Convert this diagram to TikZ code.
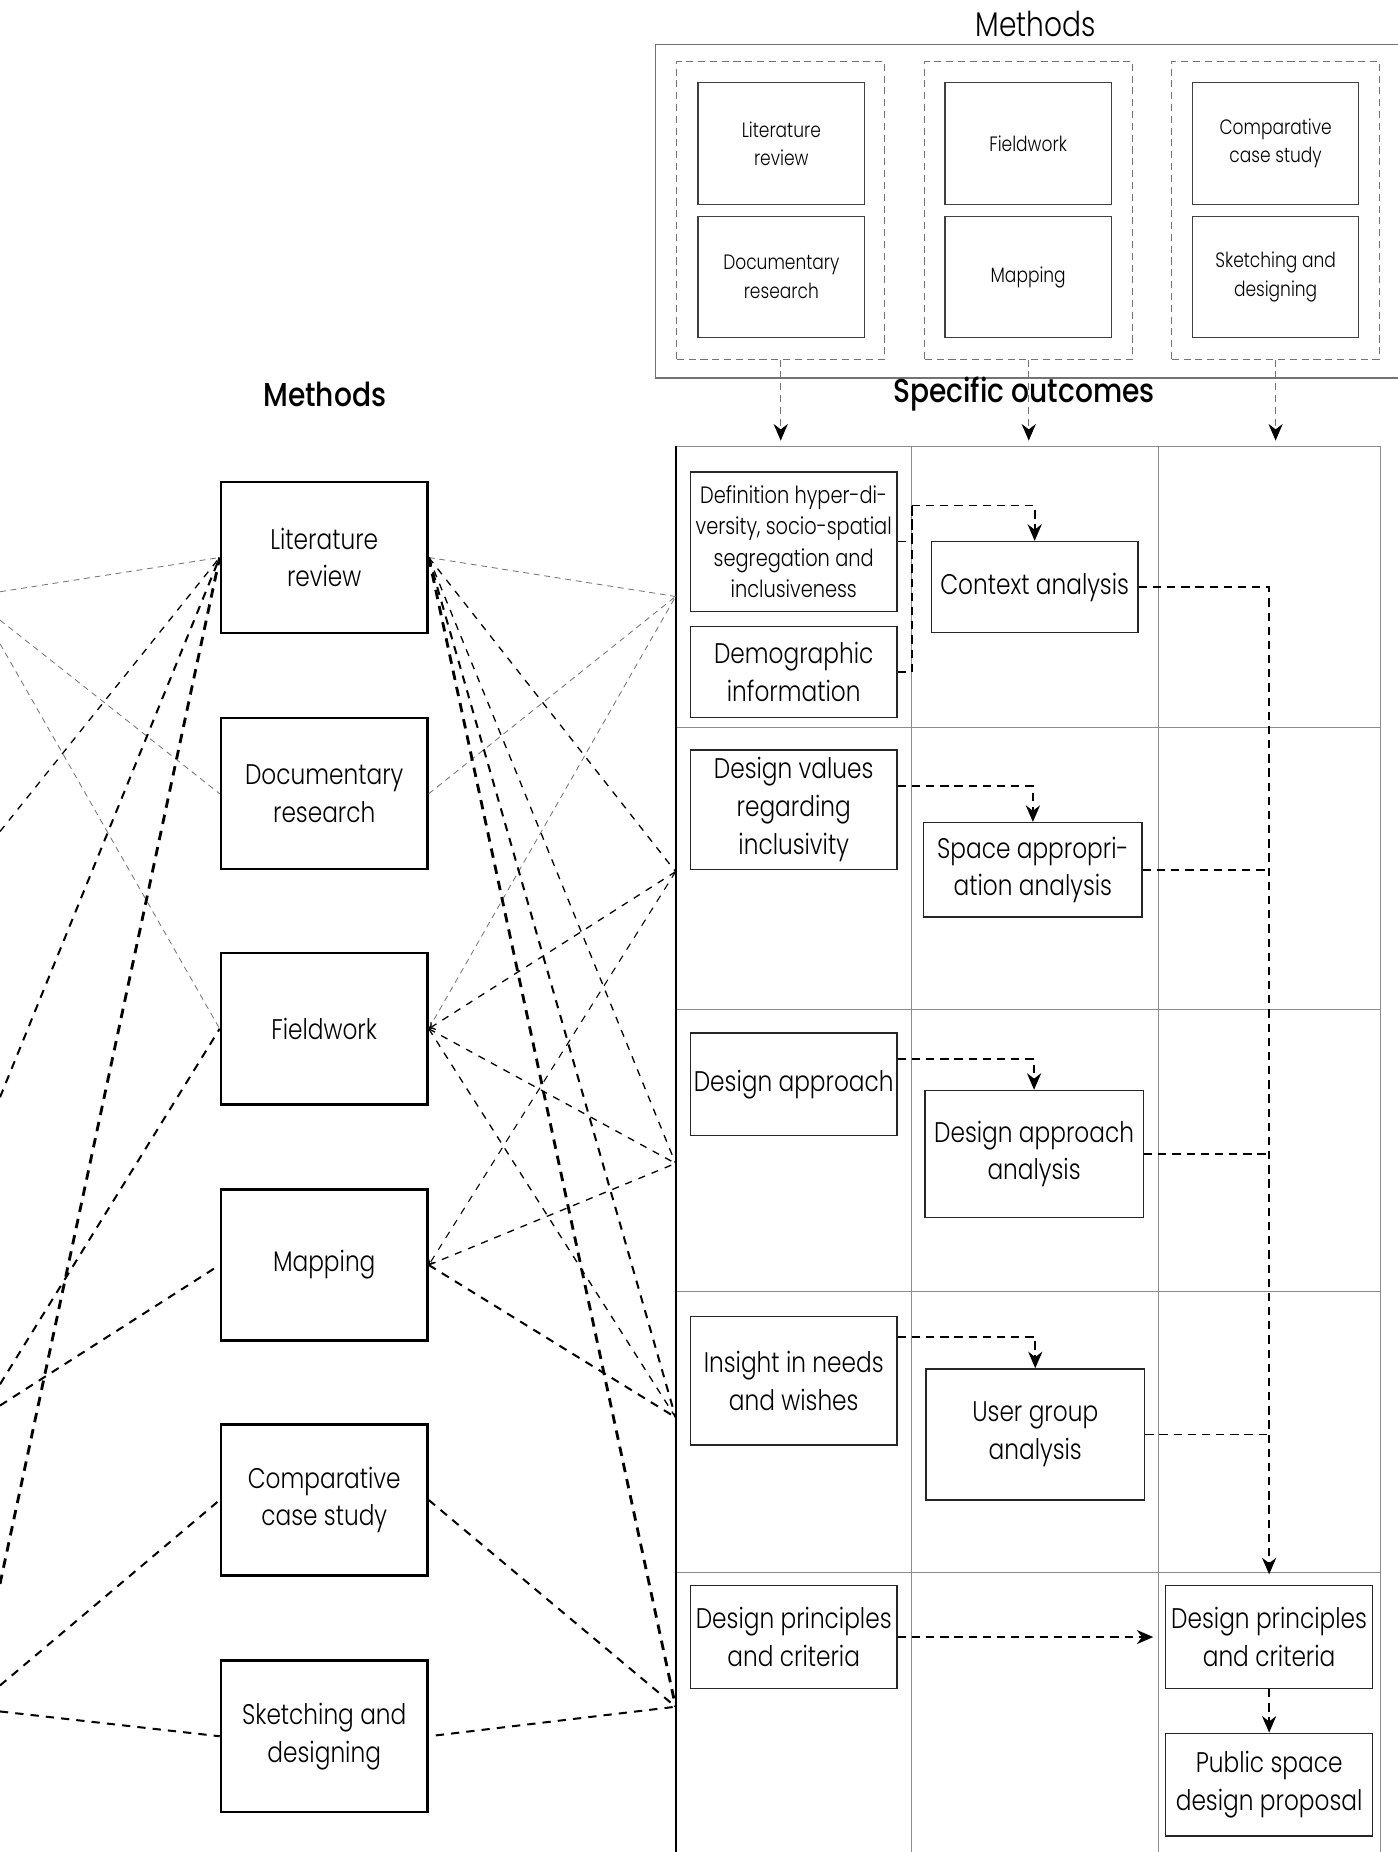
\documentclass[tikz,border=0pt]{standalone}
\usepackage{fontspec}
\IfFontExistsTF{Poppins Light}{\setmainfont{Poppins Light}[FakeStretch=0.82]}{\setmainfont{Poppins}[FakeStretch=0.82]}
\IfFontExistsTF{Poppins Medium}{\newfontfamily\headfont{Poppins Medium}[FakeStretch=0.85]}{\newfontfamily\headfont{Poppins}[FakeStretch=0.85]}
\usetikzlibrary{arrows.meta}
\tikzset{
  mbox/.style={draw=black, line width=1pt, minimum width=87.5pt, minimum height=64pt, inner sep=0pt, align=center, font=\fontsize{12}{16}\selectfont},
  sbox/.style={draw=black!75, line width=0.5pt, minimum width=70.5pt, minimum height=51.5pt, inner sep=0pt, align=center, font=\fontsize{8.8}{12}\selectfont},
  grp/.style={draw=black!55, line width=0.45pt, dash pattern=on 3pt off 2pt, minimum width=88pt, minimum height=126pt, inner sep=0pt},
  tbox/.style={draw=black!85, line width=0.6pt, inner sep=0pt, align=center, font=\fontsize{12}{16}\selectfont},
  grid/.style={draw=black!45, line width=0.4pt},
  conn/.style={line width=0.75pt, dash pattern=on 3.5pt off 2.5pt},
  tip/.style={-{Stealth[length=7pt,width=6pt]}},
  downarr/.style={draw=black!55, line width=0.45pt, dash pattern=on 3pt off 2pt, -{Stealth[length=7pt,width=6pt,black]}},
  thinl/.style={draw=black!55, line width=0.35pt, dash pattern=on 2.5pt off 2pt},
  medl/.style={draw=black, line width=0.55pt, dash pattern=on 3pt off 3pt},
  thkl/.style={draw=black, line width=0.85pt, dash pattern=on 3.5pt off 3pt},
  vthkl/.style={draw=black, line width=1.2pt, dash pattern=on 4pt off 3pt},
  head/.style={font=\headfont\fontsize{14}{16}\selectfont},
}
\begin{document}
\begin{tikzpicture}[x=0.5pt,y=-0.5pt]
\useasboundingbox (0,0) rectangle (1183,1568);
% ---------- top methods panel ----------
\node[font=\fontsize{14.5}{16}\selectfont] (topt) at (877,20) {Methods};
\draw[draw=black!55, line width=0.5pt] (1190,38) -- (555,38) -- (555,320) -- (1190,320);
\node[grp] (g1) at (661,178) {};
\node[grp] (g2) at (871,178) {};
\node[grp] (g3) at (1080,178) {};
\node[sbox] (s1) at (661.5,121.5) {Literature\\review};
\node[sbox] (s2) at (661.5,234.5) {Documentary\\research};
\node[sbox] (s3) at (870.5,121.5) {Fieldwork};
\node[sbox] (s4) at (870.5,234.5) {Mapping};
\node[sbox] (s5) at (1080,121.5) {Comparative\\case study};
\node[sbox] (s6) at (1080,234.5) {Sketching and\\designing};
\coordinate (a1) at (661,373);
\coordinate (a2) at (871,373);
\coordinate (a3) at (1080,373);
\draw[downarr] (g1.south) -- (a1);
\draw[downarr] (g2.south) -- (a2);
\draw[downarr] (g3.south) -- (a3);
% ---------- headings ----------
\node[head] (h1) at (275,334) {Methods};
\node[head] (h2) at (867,334) {Specific outcomes};
% ---------- table grid ----------
\draw[grid] (572,378) -- (1169,378) -- (1169,1568);
\draw[grid] (772,378) -- (772,1568);
\draw[grid] (981,378) -- (981,1568);
\foreach \yy in {616,855,1093,1331} \draw[grid] (572,\yy) -- (1169,\yy);
\draw[line width=0.9pt] (572,378) -- (572,1568);
% ---------- table boxes ----------
\node[tbox, minimum width=87.5pt, minimum height=59pt, font=\fontsize{10}{13.3}\selectfont] (def) at (672,458.5) {Definition hyper-di-\\versity, socio-spatial\\segregation and\\inclusiveness};
\node[tbox, minimum width=87.5pt, minimum height=38.5pt] (demo) at (672,569) {Demographic\\information};
\node[tbox, minimum width=87.5pt, minimum height=38.5pt] (ctx) at (876,497) {Context analysis};
\node[tbox, minimum width=87.5pt, minimum height=50.5pt] (dval) at (672,685.5) {Design values\\regarding\\inclusivity};
\node[tbox, minimum width=92.5pt, minimum height=40pt] (space) at (874.5,736.5) {Space appropri-\\ation analysis};
\node[tbox, minimum width=87.5pt, minimum height=43.5pt] (dapp) at (672,918) {Design approach};
\node[tbox, minimum width=92.5pt, minimum height=53.75pt] (daa) at (875.5,977) {Design approach\\analysis};
\node[tbox, minimum width=87.5pt, minimum height=54.5pt] (ins) at (672,1169) {Insight in needs\\and wishes};
\node[tbox, minimum width=92.5pt, minimum height=55.5pt] (uga) at (876.5,1214.5) {User group\\analysis};
\node[tbox, minimum width=87.5pt, minimum height=43.5pt] (dpl) at (672,1386) {Design principles\\and criteria};
\node[tbox, minimum width=87.5pt, minimum height=43.5pt] (dpr) at (1074.5,1386) {Design principles\\and criteria};
\node[tbox, minimum width=87.5pt, minimum height=43.5pt] (psdp) at (1074.5,1511) {Public space\\design proposal};
% ---------- table connectors ----------
\coordinate (c1) at (772,428);
\draw[conn] (def.east) -| (c1);
\draw[conn] (demo.east) -| (c1);
\draw[conn,tip] (c1) -| (ctx.north);
\draw[conn,tip] ([yshift=10pt]dval.east) -| (space.north);
\draw[conn,tip] ([yshift=10.6pt]dapp.east) -| (daa.north);
\draw[conn,tip] ([yshift=18.5pt]ins.east) -| (uga.north);
\draw[conn,tip,shorten >=4.5pt] (ctx.east) -| (dpr.north);
\draw[conn] (space.east) -- (space.east -| dpr.north);
\draw[conn] (daa.east) -- (daa.east -| dpr.north);
\draw[conn] (uga.east) -- (uga.east -| dpr.north);
\draw[conn,tip,shorten >=5pt] (dpl.east) -- (dpr.west);
\draw[conn,tip] (dpr.south) -- (psdp.north);
% ---------- method boxes ----------
\node[mbox] (lit) at (274.5,472) {Literature\\review};
\node[mbox] (doc) at (274.5,672) {Documentary\\research};
\node[mbox] (fld) at (274.5,871) {Fieldwork};
\node[mbox] (map) at (274.5,1071) {Mapping};
\node[mbox] (cmp) at (274.5,1270) {Comparative\\case study};
\node[mbox] (skt) at (274.5,1470) {Sketching and\\designing};
% ---------- table entry points ----------
\coordinate (t1) at (572,505);
\coordinate (t2) at (572,738);
\coordinate (t3) at (572,985);
\coordinate (t4) at (572,1200);
\coordinate (t5) at (572,1445);
% ---------- left edge points ----------
\coordinate (l1) at (0,501);
\coordinate (l2) at (0,525);
\coordinate (l3) at (0,545);
\coordinate (l4) at (0,704);
\coordinate (l5) at (0,929);
\coordinate (l6) at (0,1341);
\coordinate (l7) at (0,1172);
\coordinate (l8) at (0,1190);
\coordinate (l9) at (0,1427);
\coordinate (l10) at (0,1449);
% ---------- right-side lines ----------
\draw[thinl] (lit.east) -- (t1);
\draw[thinl] (doc.east) -- (t1);
\draw[thinl] (fld.east) -- (t1);
\draw[medl] (lit.east) -- (t2);
\draw[medl] (lit.east) -- (t3);
\draw[thkl] (lit.east) -- (t4);
\draw[vthkl] (lit.east) -- (t5);
\draw[medl,-{To[length=2.5pt,width=4pt]}] (t2) -- (fld.east);
\draw[medl] (fld.east) -- (t3);
\draw[medl] (fld.east) -- (t4);
\draw[medl,line width=0.45pt,-{To[length=2.5pt,width=4pt]}] (t2) -- (map.east);
\draw[medl] (map.east) -- (t3);
\draw[thkl] (map.east) -- (t4);
\draw[thkl] (cmp.east) -- (t5);
\draw[thkl,shorten <=3pt] (skt.east) -- (t5);
% ---------- left-side lines ----------
\draw[thinl] (l1) -- (lit.west);
\draw[thinl] (l2) -- (doc.west);
\draw[thinl] (l3) -- (fld.west);
\draw[medl] (l4) -- (lit.west);
\draw[thkl] (l5) -- (lit.west);
\draw[vthkl] (l6) -- (lit.west);
\draw[thkl] (l7) -- (fld.west);
\draw[thkl] (l8) -- (map.west);
\draw[thkl] (l9) -- (cmp.west);
\draw[thkl] (l10) -- (skt.west);
\end{tikzpicture}
\end{document}
